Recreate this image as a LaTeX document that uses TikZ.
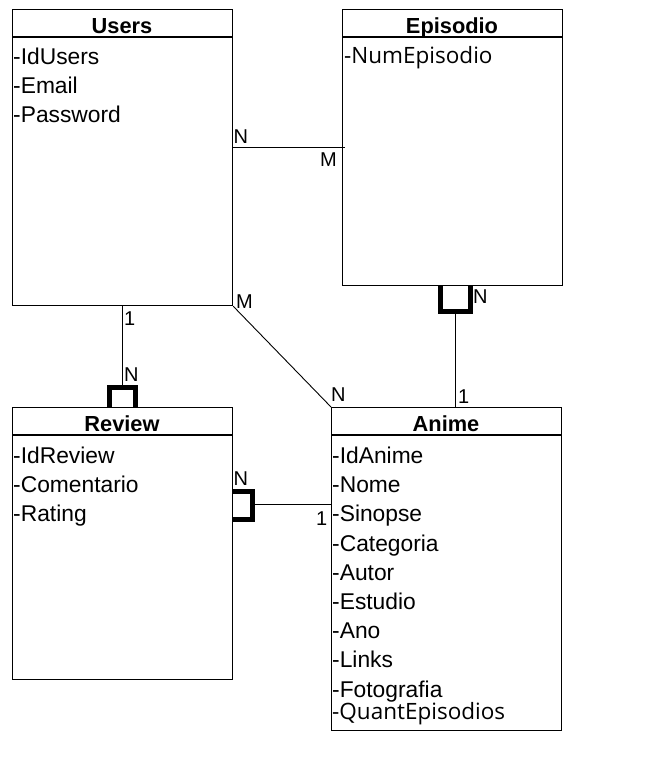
\documentclass[tikz,border=0pt]{standalone}
\usepackage{fontspec}
\setmainfont{Liberation Sans}
\newfontfamily\segoe{Open Sans}
\usetikzlibrary{calc}
\begin{document}
\begin{tikzpicture}[x=1pt,y=-1pt,
  entity/.style={draw, line width=1.2pt, inner sep=0, anchor=north west},
  attr/.style={anchor=base west, inner sep=0, font=\fontsize{22.8}{26}\selectfont},
  sattr/.style={anchor=base west, inner sep=0, font=\fontsize{22.5}{26}\selectfont\segoe},
  ttl/.style={anchor=base, inner sep=0, font=\fontsize{21.8}{25}\selectfont\bfseries},
  card/.style={anchor=base west, inner sep=0, font=\fontsize{20}{24}\selectfont},
  rel/.style={line width=0.9pt},
  weak/.style={line width=5pt}]
\useasboundingbox (0,0) rectangle (670,779);

% entities
\node[entity, minimum width=220, minimum height=296] (users) at (12,9) {};
\node[entity, minimum width=220, minimum height=276] (episodio) at (342,9) {};
\node[entity, minimum width=220, minimum height=272] (review) at (12,407) {};
\node[entity, minimum width=230, minimum height=323] (anime) at (331,407) {};

\foreach \e in {users,episodio,review,anime}{
  \draw[line width=1.2pt] ($(\e.north west)+(0,28)$) -- ($(\e.north east)+(0,28)$);
}

% titles
\node[ttl] (tusers) at (122,33) {Users};
\node[ttl] (tepisodio) at (452,33) {Episodio};
\node[ttl] (treview) at (122,431) {Review};
\node[ttl] (tanime) at (446,431) {Anime};

% attributes
\node[attr] (u1) at (13,64.5) {-IdUsers};
\node[attr] (u2) at (13,93.5) {-Email};
\node[attr] (u3) at (13,122) {-Password};

\node[sattr] (e1) at (344,63) {-NumEpisodio};

\node[attr] (r1) at (13,463) {-IdReview};
\node[attr] (r2) at (13,492) {-Comentario};
\node[attr] (r3) at (13,521.5) {-Rating};

\node[attr] (a1) at (332,463) {-IdAnime};
\node[attr] (a2) at (332,492) {-Nome};
\node[attr] (a3) at (332,521) {-Sinopse};
\node[attr] (a4) at (332,551) {-Categoria};
\node[attr] (a5) at (332,580) {-Autor};
\node[attr] (a6) at (332,609) {-Estudio};
\node[attr] (a7) at (332,638) {-Ano};
\node[attr] (a8) at (332,667) {-Links};
\node[attr] (a9) at (332,697) {-Fotografia};
\node[sattr] (a10) at (332,719) {-QuantEpisodios};

% Users -- Episodio (N:M)
\coordinate (ue1) at ($(users.north east)+(0,138)$);
\coordinate (ue2) at ($(episodio.north west)+(3,138)$);
\draw[rel] (ue1) -- (ue2);
\node[card] (cue1) at (233.5,143) {N};
\node[card] (cue2) at (320,166) {M};

% Users -- Anime (M:N)
\draw[rel] (users.south east) -- (anime.north west);
\node[card] (cua1) at (236,308) {M};
\node[card] (cua2) at (331,401.5) {N};

% Users -- Review (1:N)
\coordinate (ur1) at (users.south);
\coordinate (ur2) at ($(users.south)+(0,82.5)$);
\draw[rel] (ur1) -- (ur2);
\draw[weak] ($(review.north west)+(97,0)$) -- ($(review.north west)+(97,-19.5)$)
  -- ($(review.north west)+(123,-19.5)$) -- ($(review.north west)+(123,0)$);
\node[card] (cur1) at (124,325) {1};
\node[card] (cur2) at (124,381.5) {N};

% Episodio -- Anime (N:1)
\coordinate (ea1) at ($(episodio.south west)+(113.7,25)$);
\draw[rel] (ea1) -- (ea1 |- anime.north);
\draw[weak] ($(episodio.south west)+(98,0)$) -- ($(episodio.south west)+(98,25)$)
  -- ($(episodio.south west)+(128,25)$) -- ($(episodio.south west)+(128,0)$);
\node[card] (cea1) at (473,303.5) {N};
\node[card] (cea2) at (458,403) {1};

% Review -- Anime (N:1)
\coordinate (ra1) at ($(review.north east)+(19,97.5)$);
\draw[rel] (ra1) -- (ra1 -| anime.west);
\draw[weak] ($(review.north east)+(0,84.5)$) -- ($(review.north east)+(19,84.5)$)
  -- ($(review.north east)+(19,112)$) -- ($(review.north east)+(0,112)$);
\node[card] (cra1) at (233.5,485) {N};
\node[card] (cra2) at (316,525) {1};
\end{tikzpicture}
\end{document}
